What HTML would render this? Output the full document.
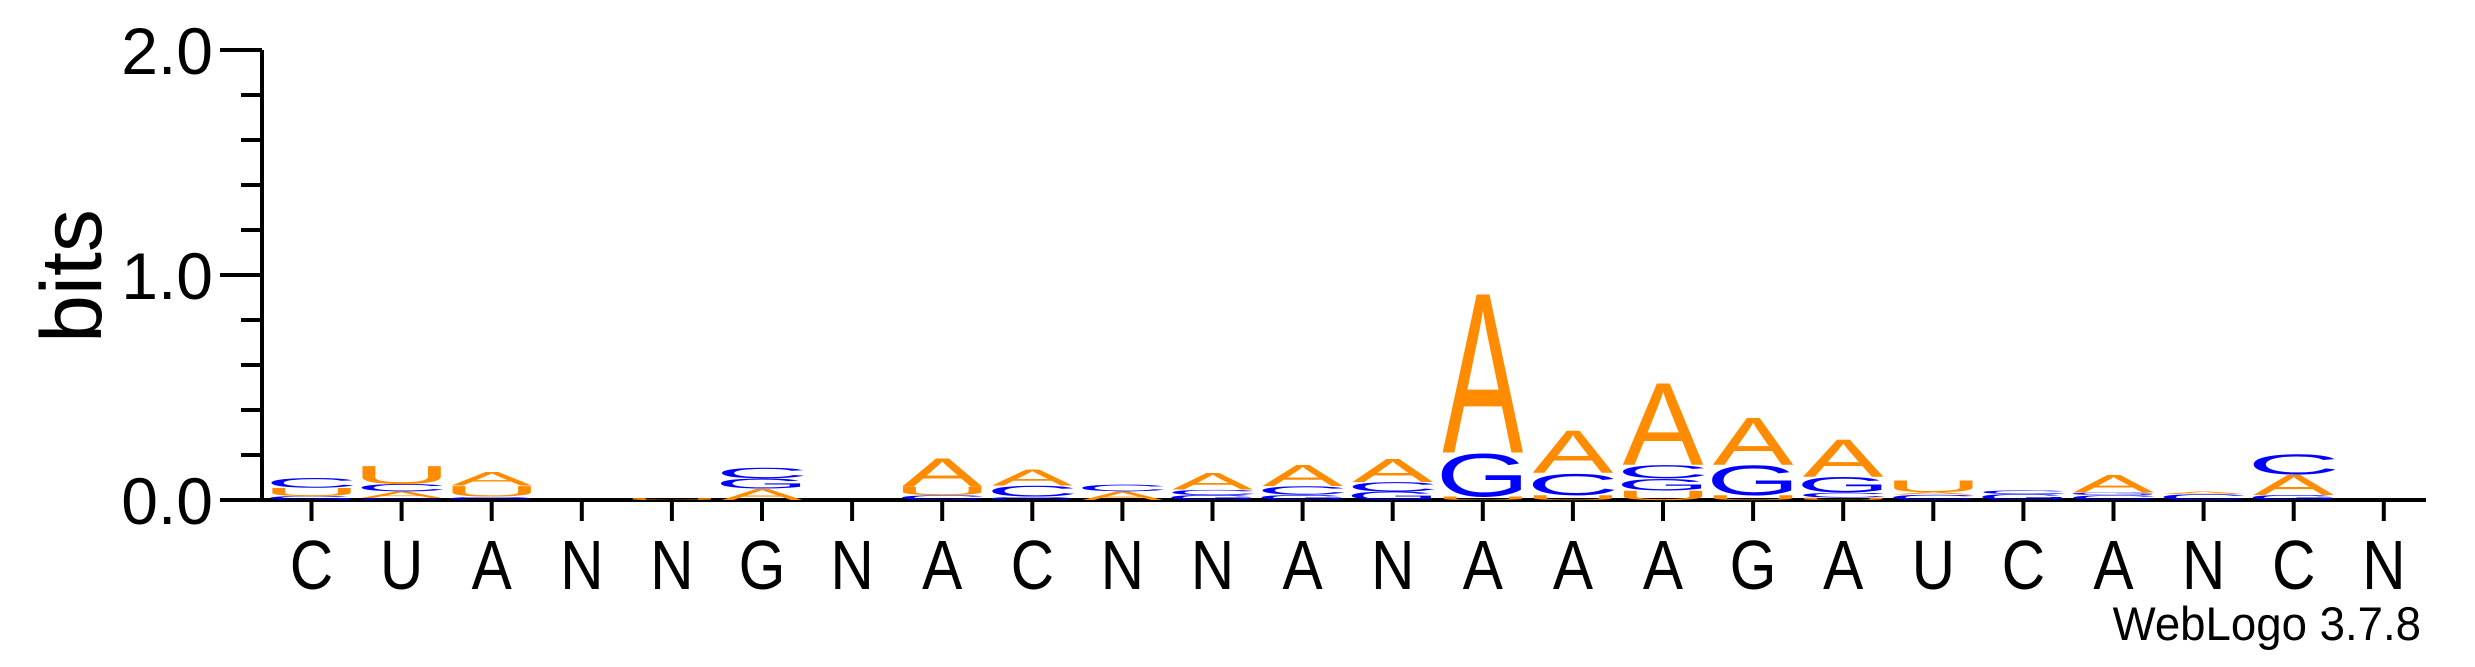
<!DOCTYPE html>
<html><head><meta charset="utf-8">
<style>
html,body{margin:0;padding:0;background:#fff;}
svg{display:block;}
text{font-family:"Liberation Sans",Arial,sans-serif;}
</style></head>
<body>
<svg id="logo" width="2475" height="667" viewBox="0 0 2475 667" xmlns="http://www.w3.org/2000/svg">
  <g id="axes"></g>
  <g id="stacks"></g>
  <text transform="translate(101,276) rotate(-90)" text-anchor="middle" font-size="86" fill="#000">bits</text>
  <text x="2421" y="640" text-anchor="end" font-size="47" fill="#000" transform="translate(2421,0) scale(0.97,1) translate(-2421,0)">WebLogo 3.7.8</text>
</svg>
<script>
const colLabels = ["C","U","A","N","N","G","N","A","C","N","N","A","N","A","A","A","G","A","U","C","A","N","C","N"];
const stackLetters = [
  ["G","U","C"],
  ["C","A","C","U"],
  ["G","U","A"],
  [],
  ["U"],
  ["A","G","C"],
  [],
  ["C","U","A"],
  ["G","C","A"],
  ["A","C"],
  ["G","C","A"],
  ["G","C","A"],
  ["G","C","A"],
  ["U","G","A"],
  ["U","C","A"],
  ["U","G","C","A"],
  ["U","G","A"],
  ["U","C","G","A"],
  ["C","A","U"],
  ["G","C"],
  ["C","G","A"],
  ["C","A"],
  ["G","A","C"],
  []
];
const stackBits = [
  [0.018,0.037,0.044],
  [0.009,0.030,0.033,0.082],
  [0.016,0.048,0.062],
  [],
  [0.009],
  [0.051,0.046,0.048],
  [],
  [0.022,0.038,0.130],
  [0.016,0.049,0.074],
  [0.039,0.030],
  [0.022,0.024,0.076],
  [0.024,0.038,0.097],
  [0.038,0.043,0.108],
  [0.016,0.195,0.735],
  [0.022,0.097,0.195],
  [0.043,0.054,0.060,0.378],
  [0.022,0.135,0.216],
  [0.011,0.022,0.070,0.173],
  [0.024,0.011,0.054],
  [0.027,0.016],
  [0.022,0.011,0.081],
  [0.027,0.013],
  [0.022,0.092,0.092],
  []
];
const yTicks = [0,0.2,0.4,0.6,0.8,1.0,1.2,1.4,1.6,1.8,2.0];
const yLabels = ["0.0","1.0","2.0"];

const NS="http://www.w3.org/2000/svg";
const X0=311.5, DX=90.1, Y0=500, PXB=225, GW=80;
function xPos(i){return X0+i*DX;}
function yPos(b){return Y0-b*PXB;}
const colors={A:"#FF8C00",U:"#FF8C00",C:"#0000FF",G:"#0000FF"};
function mk(tag,attrs,parent){const e=document.createElementNS(NS,tag);for(const k in attrs)e.setAttribute(k,attrs[k]);parent.appendChild(e);return e;}

const axes=document.getElementById('axes');
let l=mk('line',{x1:262,y1:yPos(2),x2:262,y2:Y0+2,stroke:'#000','stroke-width':4},axes);


l=mk('line',{x1:260,y1:Y0,x2:2426,y2:Y0,stroke:'#000','stroke-width':4},axes);


yTicks.forEach((t,i)=>{
  const major=(i%5===0);
  const tk=mk('line',{x1:major?220:241,y1:yPos(t),x2:262,y2:yPos(t),stroke:'#000','stroke-width':4},axes);
  
  
});
yLabels.forEach((s)=>{
  const v=parseFloat(s);
  const tx=mk('text',{x:213,y:yPos(v)+24,'text-anchor':'end','font-size':66,fill:'#000'},axes);
  tx.textContent=s;
  
  
});
colLabels.forEach((c,i)=>{
  const tk=mk('line',{x1:xPos(i),y1:Y0,x2:xPos(i),y2:521,stroke:'#000','stroke-width':4},axes);
  
  
  const tx=mk('text',{'text-anchor':'middle','font-size':70,fill:'#000',transform:`translate(${xPos(i)},589) scale(0.86,1)`},axes);
  tx.textContent=c;
  
  
});

const stacks=document.getElementById('stacks');
const inkW={A:66,C:62,G:66,U:58};
stackLetters.forEach((letters,i)=>{
  let acc=0;
  letters.forEach((L,j)=>{
    const h=stackBits[i][j]*PXB;
    const bottom=yPos(acc);
    acc+=stackBits[i][j];
    if(h<=0)return;
    const sy=h/72, sx=GW/inkW[L];
    const t=mk('text',{'text-anchor':'middle','font-size':100,fill:colors[L],transform:`translate(${xPos(i)},${bottom}) scale(${sx},${sy})`},stacks);
    t.textContent=L;
    
    
  });
});
</script>
</body></html>
